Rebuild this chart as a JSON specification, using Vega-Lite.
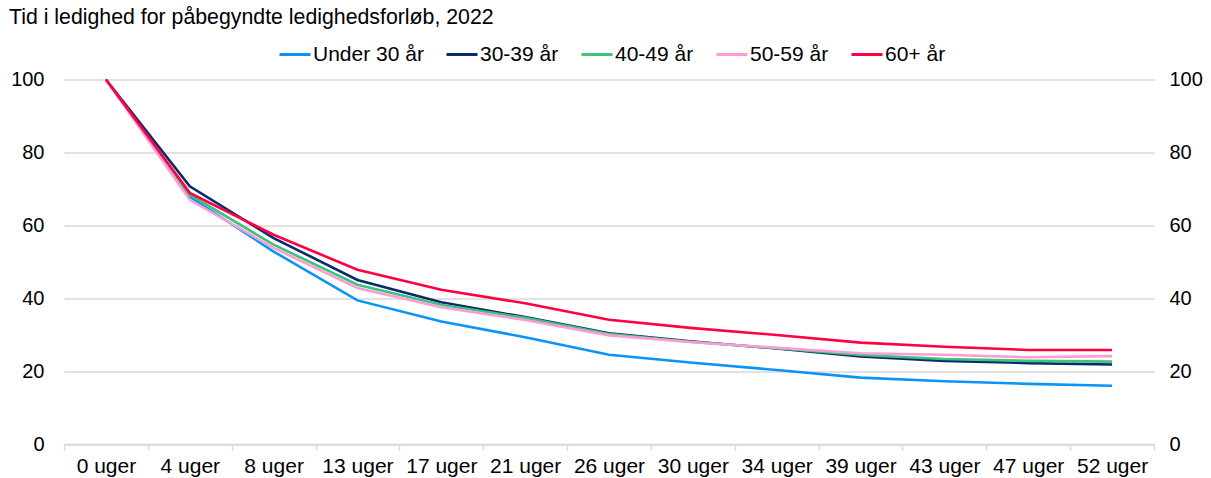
{
  "$schema": "https://vega.github.io/schema/vega-lite/v6.json",
  "width": 1090,
  "height": 364.5,
  "autosize": {"type": "none"},
  "padding": {"left": 64, "top": 79.5, "right": 57, "bottom": 34},
  "background": "white",
  "title": {
    "text": "Tid i ledighed for påbegyndte ledighedsforløb, 2022",
    "anchor": "start",
    "frame": "group",
    "dx": -55,
    "font": "Liberation Sans",
    "fontSize": 21.3,
    "fontWeight": "normal",
    "color": "#000000",
    "offset": 9
  },
  "config": {
    "view": {"stroke": null},
    "font": "Liberation Sans",
    "axis": {"labelFont": "Liberation Sans", "labelColor": "#000000"}
  },
  "data": {
    "values": [
      {"uge": "0 uger", "gruppe": "Under 30 år", "andel": 100},
      {"uge": "4 uger", "gruppe": "Under 30 år", "andel": 67.8},
      {"uge": "8 uger", "gruppe": "Under 30 år", "andel": 52.8},
      {"uge": "13 uger", "gruppe": "Under 30 år", "andel": 39.4},
      {"uge": "17 uger", "gruppe": "Under 30 år", "andel": 33.6},
      {"uge": "21 uger", "gruppe": "Under 30 år", "andel": 29.3},
      {"uge": "26 uger", "gruppe": "Under 30 år", "andel": 24.5},
      {"uge": "30 uger", "gruppe": "Under 30 år", "andel": 22.3},
      {"uge": "34 uger", "gruppe": "Under 30 år", "andel": 20.3},
      {"uge": "39 uger", "gruppe": "Under 30 år", "andel": 18.2},
      {"uge": "43 uger", "gruppe": "Under 30 år", "andel": 17.2},
      {"uge": "47 uger", "gruppe": "Under 30 år", "andel": 16.5},
      {"uge": "52 uger", "gruppe": "Under 30 år", "andel": 16.0},
      {"uge": "0 uger", "gruppe": "30-39 år", "andel": 100},
      {"uge": "4 uger", "gruppe": "30-39 år", "andel": 70.7},
      {"uge": "8 uger", "gruppe": "30-39 år", "andel": 56.5},
      {"uge": "13 uger", "gruppe": "30-39 år", "andel": 45.0},
      {"uge": "17 uger", "gruppe": "30-39 år", "andel": 38.9},
      {"uge": "21 uger", "gruppe": "30-39 år", "andel": 34.8},
      {"uge": "26 uger", "gruppe": "30-39 år", "andel": 30.4},
      {"uge": "30 uger", "gruppe": "30-39 år", "andel": 28.1},
      {"uge": "34 uger", "gruppe": "30-39 år", "andel": 26.2},
      {"uge": "39 uger", "gruppe": "30-39 år", "andel": 24.0},
      {"uge": "43 uger", "gruppe": "30-39 år", "andel": 22.8},
      {"uge": "47 uger", "gruppe": "30-39 år", "andel": 22.2},
      {"uge": "52 uger", "gruppe": "30-39 år", "andel": 21.8},
      {"uge": "0 uger", "gruppe": "40-49 år", "andel": 100},
      {"uge": "4 uger", "gruppe": "40-49 år", "andel": 68.4},
      {"uge": "8 uger", "gruppe": "40-49 år", "andel": 54.7},
      {"uge": "13 uger", "gruppe": "40-49 år", "andel": 43.7},
      {"uge": "17 uger", "gruppe": "40-49 år", "andel": 38.2},
      {"uge": "21 uger", "gruppe": "40-49 år", "andel": 34.6},
      {"uge": "26 uger", "gruppe": "40-49 år", "andel": 30.2},
      {"uge": "30 uger", "gruppe": "40-49 år", "andel": 28.0},
      {"uge": "34 uger", "gruppe": "40-49 år", "andel": 26.3},
      {"uge": "39 uger", "gruppe": "40-49 år", "andel": 24.4},
      {"uge": "43 uger", "gruppe": "40-49 år", "andel": 23.3},
      {"uge": "47 uger", "gruppe": "40-49 år", "andel": 22.8},
      {"uge": "52 uger", "gruppe": "40-49 år", "andel": 22.6},
      {"uge": "0 uger", "gruppe": "50-59 år", "andel": 100},
      {"uge": "4 uger", "gruppe": "50-59 år", "andel": 67.0},
      {"uge": "8 uger", "gruppe": "50-59 år", "andel": 53.8},
      {"uge": "13 uger", "gruppe": "50-59 år", "andel": 42.8},
      {"uge": "17 uger", "gruppe": "50-59 år", "andel": 37.5},
      {"uge": "21 uger", "gruppe": "50-59 år", "andel": 34.0},
      {"uge": "26 uger", "gruppe": "50-59 år", "andel": 29.8},
      {"uge": "30 uger", "gruppe": "50-59 år", "andel": 27.9},
      {"uge": "34 uger", "gruppe": "50-59 år", "andel": 26.4},
      {"uge": "39 uger", "gruppe": "50-59 år", "andel": 24.9},
      {"uge": "43 uger", "gruppe": "50-59 år", "andel": 24.5},
      {"uge": "47 uger", "gruppe": "50-59 år", "andel": 23.8},
      {"uge": "52 uger", "gruppe": "50-59 år", "andel": 24.1},
      {"uge": "0 uger", "gruppe": "60+ år", "andel": 100},
      {"uge": "4 uger", "gruppe": "60+ år", "andel": 68.9},
      {"uge": "8 uger", "gruppe": "60+ år", "andel": 57.4},
      {"uge": "13 uger", "gruppe": "60+ år", "andel": 47.8},
      {"uge": "17 uger", "gruppe": "60+ år", "andel": 42.3},
      {"uge": "21 uger", "gruppe": "60+ år", "andel": 38.6},
      {"uge": "26 uger", "gruppe": "60+ år", "andel": 34.1},
      {"uge": "30 uger", "gruppe": "60+ år", "andel": 31.8},
      {"uge": "34 uger", "gruppe": "60+ år", "andel": 29.9},
      {"uge": "39 uger", "gruppe": "60+ år", "andel": 27.8},
      {"uge": "43 uger", "gruppe": "60+ år", "andel": 26.7},
      {"uge": "47 uger", "gruppe": "60+ år", "andel": 25.8},
      {"uge": "52 uger", "gruppe": "60+ år", "andel": 25.8}
    ]
  },
  "encoding": {
    "x": {
      "field": "uge",
      "type": "nominal",
      "sort": null,
      "scale": {"paddingInner": 0, "paddingOuter": 0},
      "axis": {
        "title": null,
        "labelAngle": 0,
        "labelFontSize": 21,
        "labelPadding": 5,
        "tickBand": "extent",
        "tickColor": "#d9d9d9",
        "tickSize": 6,
        "tickWidth": 1.5,
        "domainColor": "#d9d9d9",
        "domainWidth": 1.5,
        "grid": false,
        "labelBaseline": "top"
      }
    }
  },
  "layer": [
    {
      "mark": {"type": "line", "strokeWidth": 2.6},
      "encoding": {
        "y": {
          "field": "andel",
          "type": "quantitative",
          "scale": {"domain": [0, 100]},
          "axis": {
            "orient": "left",
            "title": null,
            "values": [0, 20, 40, 60, 80, 100],
            "labelFontSize": 20,
            "labelPadding": 20,
            "ticks": false,
            "domain": false,
            "grid": true,
            "gridColor": "#d9d9d9",
            "gridWidth": 1.5
          }
        },
        "color": {
          "field": "gruppe",
          "type": "nominal",
          "scale": {
            "domain": ["Under 30 år", "30-39 år", "40-49 år", "50-59 år", "60+ år"],
            "range": ["#0A94F5", "#0B2A6E", "#3DC47A", "#FF9BD5", "#FF0044"]
          },
          "legend": {
            "title": null,
            "orient": "none",
            "direction": "horizontal",
            "legendX": 214,
            "legendY": -42,
            "symbolType": "stroke",
            "symbolSize": 961,
            "symbolStrokeWidth": 3,
            "labelFontSize": 21,
            "labelColor": "#000000",
            "labelOffset": 1,
            "columnPadding": 16
          }
        }
      }
    },
    {
      "mark": {"type": "line", "opacity": 0},
      "encoding": {
        "detail": {"field": "gruppe"},
        "y": {
          "field": "andel",
          "type": "quantitative",
          "scale": {"domain": [0, 100]},
          "axis": {
            "orient": "right",
            "title": null,
            "values": [0, 20, 40, 60, 80, 100],
            "labelFontSize": 20,
            "labelPadding": 15,
            "ticks": false,
            "domain": false,
            "grid": false
          }
        }
      }
    }
  ],
  "resolve": {"scale": {"y": "independent"}}
}
